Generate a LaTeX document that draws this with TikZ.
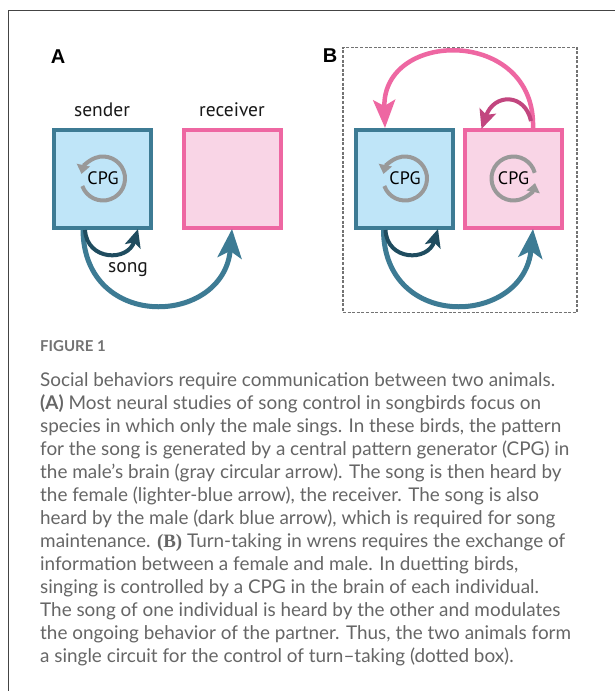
\documentclass[tikz,border=0pt]{standalone}
\usepackage{fontspec}
\setmainfont{Lato}
\newfontfamily\labfont{PT Sans}
\newfontfamily\panelfont{Liberation Sans}
\newfontfamily\serifb{Liberation Serif}
\usetikzlibrary{arrows.meta}
\definecolor{tealS}{HTML}{3D7B94}
\definecolor{blueF}{HTML}{BFE5F8}
\definecolor{pinkS}{HTML}{EE67A2}
\definecolor{pinkF}{HTML}{F9D5E6}
\definecolor{darkT}{HTML}{1F4C5F}
\definecolor{magS}{HTML}{C2467F}
\definecolor{cpgG}{HTML}{999999}
\definecolor{capG}{HTML}{666666}
\definecolor{frameG}{HTML}{444444}
\tikzset{
  bluebox/.style={draw=tealS, fill=blueF, line width=4pt, minimum width=97pt, minimum height=98pt, inner sep=0pt},
  pinkbox/.style={draw=pinkS, fill=pinkF, line width=4pt, minimum width=97pt, minimum height=98pt, inner sep=0pt},
  lab/.style={font=\labfont\fontsize{19.5}{22}\selectfont, text=black!90, inner sep=0pt},
  cpgtext/.style={font=\labfont\fontsize{18}{20}\selectfont, text=black, inner sep=0pt},
  panel/.style={font=\panelfont\bfseries\fontsize{20}{22}\selectfont, inner sep=0pt},
  cpgarc/.style={draw=cpgG, line width=4pt, -{Triangle[length=9pt,width=13pt]}},
  bigteal/.style={draw=tealS, line width=5pt, -{Stealth[length=29pt,width=24pt,inset=7pt]}},
  darkarr/.style={draw=darkT, line width=4pt, -{Stealth[length=18pt,width=16pt,inset=4pt]}},
  bigpink/.style={draw=pinkS, line width=4.5pt, -{Stealth[length=28pt,width=22pt,inset=6pt]}},
  magarr/.style={draw=magS, line width=4pt, -{Stealth[length=19pt,width=17pt,inset=4pt]}},
  captxt/.style={font=\fontsize{18.9}{22}\selectfont, text=capG, inner sep=0pt, anchor=base west},
  dotbox/.style={draw=black!55, line width=1.8pt, dash pattern=on 3pt off 1.6pt},
}
\begin{document}
\begin{tikzpicture}[x=1pt,y=1pt]
\useasboundingbox (0,0) rectangle (614,-691);
\fill[white] (0,0) rectangle (614,-691);
% outer frame
\draw[frameG, line width=1pt] (8,-700) -- (8,-10) -- (620,-10);
% panel letters
\node[panel] (pA) at (58,-57) {A};
\node[panel] (pB) at (330,-56) {B};
% dotted box
\node[dotbox, minimum width=234pt, minimum height=265pt, anchor=north west] (dots) at (342,-46.5) {};
% labels
\node[lab] (sendlab) at (102,-110) {sender};
\node[lab] (recvlab) at (232,-110) {receiver};
% boxes
\node[bluebox] (sendA) at (102.5,-179) {};
\node[pinkbox] (recvA) at (232,-179) {};
\node[bluebox] (maleB) at (404.5,-179) {};
\node[pinkbox] (femB) at (513.5,-179) {};
% CPG
\node[cpgtext] (cpgA) at (103,-178.5) {CPG};
\node[cpgtext] (cpgB1) at (405,-178.5) {CPG};
\node[cpgtext] (cpgB2) at (513.5,-178.5) {CPG};
\draw[cpgarc] ([shift={(200:22pt)}]cpgA.center) arc[start angle=200, end angle=528, radius=22pt];
\draw[cpgarc] ([shift={(200:22pt)}]cpgB1.center) arc[start angle=200, end angle=528, radius=22pt];
\draw[cpgarc] ([shift={(15:22pt)}]cpgB2.center) arc[start angle=15, end angle=348, radius=22pt];
% Panel A arrows
\draw[bigteal] ([xshift=-19.5pt]sendA.south) .. controls (84,-332) and (224,-326) .. ([yshift=1pt]recvA.south);
\draw[darkarr] ([xshift=-17.5pt]sendA.south) .. controls (87,-261) and (128,-262) .. ([xshift=35.5pt,yshift=1pt]sendA.south);
\node[lab] (song) at (128,-270) {song};
% Panel B arrows
\draw[bigteal] ([xshift=-21pt]maleB.south) .. controls (384,-332) and (524,-326) .. ([xshift=19.5pt,yshift=1pt]femB.south);
\draw[darkarr] ([xshift=-19pt]maleB.south) .. controls (387,-261) and (428,-262) .. ([xshift=33.5pt,yshift=1pt]maleB.south);
\draw[bigpink] ([xshift=19.5pt]femB.north) .. controls (536,-27) and (382,-29) .. ([xshift=-19.5pt]maleB.north);
\coordinate (magstart) at (531,-121);
\draw[magarr] (magstart) .. controls (525,-93) and (494,-93) .. ([xshift=-32pt,yshift=-1pt]femB.north);
% caption
\node[captxt, font=\fontsize{15}{18}\selectfont\bfseries, text=black!55] (fig) at (40,-351.5) {FIGURE 1};
\node[captxt] (c1) at (40,-386) {Social behaviors require communication between two animals.};
\node[captxt] (c2) at (40,-409) {\textbf{(A)} Most neural studies of song control in songbirds focus on};
\node[captxt] (c3) at (40,-432) {species in which only the male sings. In these birds, the pattern};
\node[captxt] (c4) at (40,-455) {for the song is generated by a central pattern generator (CPG) in};
\node[captxt] (c5) at (40,-478) {the male’s brain (gray circular arrow). The song is then heard by};
\node[captxt] (c6) at (40,-501) {the female (lighter-blue arrow), the receiver. The song is also};
\node[captxt] (c7) at (40,-524) {heard by the male (dark blue arrow), which is required for song};
\node[captxt] (c8) at (40,-547) {maintenance. {\serifb\bfseries (B)} Turn-taking in wrens requires the exchange of};
\node[captxt] (c9) at (40,-570) {information between a female and male. In duetting birds,};
\node[captxt] (c10) at (40,-593) {singing is controlled by a CPG in the brain of each individual.};
\node[captxt] (c11) at (40,-616) {The song of one individual is heard by the other and modulates};
\node[captxt] (c12) at (40,-639) {the ongoing behavior of the partner. Thus, the two animals form};
\node[captxt] (c13) at (40,-662) {a single circuit for the control of turn–taking (dotted box).};
\end{tikzpicture}
\end{document}
